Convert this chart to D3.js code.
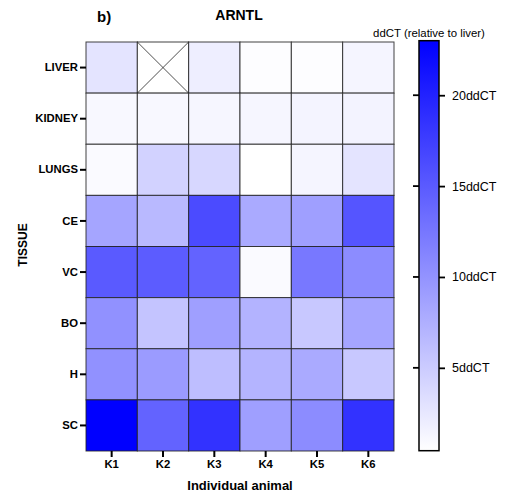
<!DOCTYPE html>
<html>
<head>
<meta charset="utf-8">
<script src="https://cdn.jsdelivr.net/npm/d3@7"></script>
<style>
  body { margin: 0; background: #fff; }
  svg { font-family: "Liberation Sans", Arial, sans-serif; }
</style>
</head>
<body>
<svg id="canvas" width="506" height="498"></svg>
<script>
let tissues = ['LIVER', 'KIDNEY', 'LUNGS', 'CE', 'VC', 'BO', 'H', 'SC']
let animals = ['K1', 'K2', 'K3', 'K4', 'K5', 'K6']

// ddCT per tissue row, one value per animal (null = no sample)
let liver  = [2.8, null, 1.9, 0.6, 0.6, 1.3]
let kidney = [1.1, 1.1, 1.2, 1.2, 1.4, 1.5]
let lungs  = [0.9, 4.4, 4.0, 0.44, 1.3, 2.8]
let ce     = [8.4, 6.6, 16.4, 8.0, 8.9, 15.5]
let vc     = [15.0, 14.9, 14.2, 0.9, 12.4, 10.6]
let bo     = [10.2, 5.7, 8.9, 7.2, 5.3, 8.4]
let h      = [10.2, 9.3, 6.2, 7.1, 8.0, 5.3]
let sc     = [23.0, 14.2, 18.6, 8.9, 10.6, 18.6]

let rows = [liver, kidney, lungs, ce, vc, bo, h, sc]
let colorTicks = [5, 10, 15, 20]
let colorMin = 0.44
let colorMax = 23

let svg = d3.select('#canvas')

let x = d3.scaleBand().domain(animals).range([86, 394])
let y = d3.scaleBand().domain(tissues).range([42, 451])
let color = d3.scaleLinear().domain([colorMin, colorMax]).range(['#ffffff', '#0000ff'])
  .interpolate(d3.interpolateRgb)

let cells = []
rows.forEach((row, i) => {
    row.forEach((v, j) => {
        cells.push({tissue: tissues[i], animal: animals[j], value: v})
    })
})

svg.selectAll('rect.cell')
    .data(cells)
    .enter()
    .append('rect')
    .attr('class', 'cell')
    .attr('x', d => x(d.animal))
    .attr('y', d => y(d.tissue))
    .attr('width', x.bandwidth())
    .attr('height', y.bandwidth())
    .attr('fill', d => d.value === null ? '#ffffff' : color(d.value))
    .attr('stroke', '#222')
    .attr('stroke-opacity', 0.85)
    .attr('stroke-width', 1)

// cross for missing samples
let missing = cells.filter(d => d.value === null)
missing.forEach(d => {
    let x0 = x(d.animal), x1 = x0 + x.bandwidth()
    let y0 = y(d.tissue), y1 = y0 + y.bandwidth()
    svg.append('line').attr('x1', x0).attr('y1', y0).attr('x2', x1).attr('y2', y1)
        .attr('stroke', '#222').attr('stroke-width', 0.8)
    svg.append('line').attr('x1', x1).attr('y1', y0).attr('x2', x0).attr('y2', y1)
        .attr('stroke', '#222').attr('stroke-width', 0.8)
})

// axes
let yAxis = svg.append('g')
    .attr('transform', 'translate(86,0)')
    .call(d3.axisLeft(y).tickSize(6).tickPadding(2))
yAxis.select('.domain').remove()
yAxis.selectAll('line').attr('stroke', '#000').attr('stroke-width', 2)
yAxis.selectAll('text').attr('font-size', 11.3).attr('font-weight', 'bold').attr('fill', '#000')

let xAxis = svg.append('g')
    .attr('transform', 'translate(0,451)')
    .call(d3.axisBottom(x).tickSize(6).tickPadding(3))
xAxis.select('.domain').remove()
xAxis.selectAll('line').attr('stroke', '#000').attr('stroke-width', 2)
xAxis.selectAll('text').attr('font-size', 11.3).attr('font-weight', 'bold').attr('fill', '#000')

svg.append('text')
    .attr('x', 240).attr('y', 490)
    .attr('text-anchor', 'middle')
    .attr('font-size', 13).attr('font-weight', 'bold')
    .text('Individual animal')

svg.append('text')
    .attr('transform', 'translate(26.5,245) rotate(-90)')
    .attr('text-anchor', 'middle')
    .attr('font-size', 12).attr('font-weight', 'bold')
    .text('TISSUE')

svg.append('text')
    .attr('x', 97).attr('y', 22)
    .attr('font-size', 15).attr('font-weight', 'bold')
    .text('b)')

svg.append('text')
    .attr('x', 239).attr('y', 19.5)
    .attr('text-anchor', 'middle')
    .attr('font-size', 14).attr('font-weight', 'bold')
    .text('ARNTL')

// colour bar
let cb = d3.scaleLinear().domain([colorMin, colorMax]).range([450.7, 40.7])

let grad = svg.append('defs').append('linearGradient')
    .attr('id', 'grad')
    .attr('x1', 0).attr('y1', 1).attr('x2', 0).attr('y2', 0)
grad.append('stop').attr('offset', '0%').attr('stop-color', color(colorMin))
grad.append('stop').attr('offset', '100%').attr('stop-color', color(colorMax))

svg.append('rect')
    .attr('x', 419).attr('y', cb(colorMax))
    .attr('width', 20).attr('height', cb(colorMin) - cb(colorMax))
    .attr('fill', 'url(#grad)')
    .attr('stroke', '#000').attr('stroke-width', 1.5)

let cbAxis = svg.append('g')
    .attr('transform', 'translate(439,0)')
    .call(d3.axisRight(cb).tickValues(colorTicks).tickSize(6).tickPadding(7)
        .tickFormat(d => d + 'ddCT'))
cbAxis.select('.domain').remove()
cbAxis.selectAll('line').attr('stroke', '#000').attr('stroke-width', 1.8)
cbAxis.selectAll('text').attr('font-size', 12.5).attr('fill', '#000')

// left-side ticks of the colour bar
svg.selectAll('line.cbl')
    .data(colorTicks)
    .enter()
    .append('line')
    .attr('class', 'cbl')
    .attr('x1', 413).attr('x2', 419)
    .attr('y1', d => cb(d)).attr('y2', d => cb(d))
    .attr('stroke', '#000').attr('stroke-width', 1.8)

svg.append('text')
    .attr('x', 429).attr('y', 36.5)
    .attr('text-anchor', 'middle')
    .attr('font-size', 11.4)
    .text('ddCT (relative to liver)')
</script>
</body>
</html>
